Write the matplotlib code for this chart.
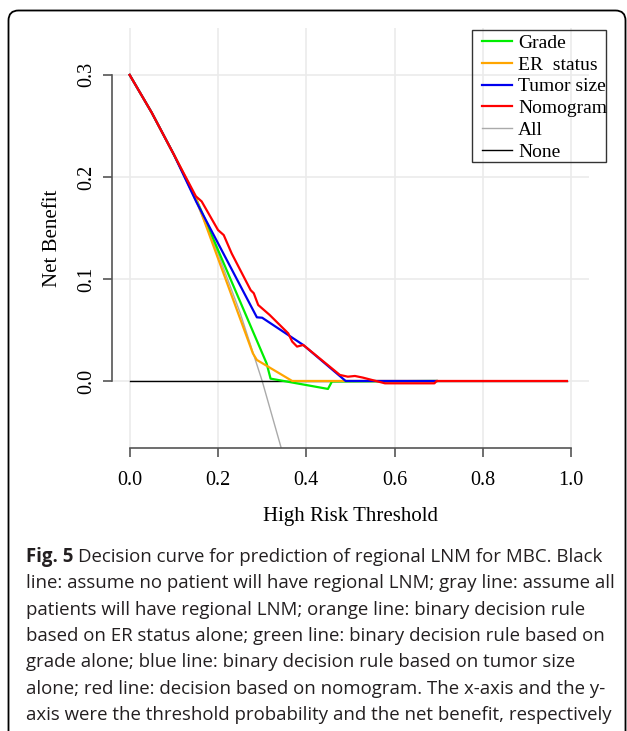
import matplotlib
matplotlib.use("Agg")
import matplotlib.pyplot as plt
import matplotlib.transforms as mtransforms
from matplotlib.patches import FancyBboxPatch, Rectangle

# Decision curve values
all_t = [0.0, 0.05, 0.10, 0.15, 0.20, 0.25, 0.30, 0.342, 0.36]
all_nb = [0.300, 0.263, 0.222, 0.176, 0.125, 0.067, 0.000, -0.064, -0.094]

none_t = [0.0, 0.99]
none_nb = [0.0, 0.0]

grade_t = [0.0, 0.05, 0.10, 0.151, 0.31, 0.319, 0.449, 0.458, 0.695]
grade_nb = [0.300, 0.263, 0.222, 0.178, 0.0173, 0.0023, -0.0078, -0.0005, 0.0]

er_t = [0.0, 0.05, 0.10, 0.151, 0.279, 0.288, 0.368, 0.695]
er_nb = [0.300, 0.263, 0.222, 0.178, 0.027, 0.0206, 0.0, 0.0]

tumor_t = [0.0, 0.05, 0.10, 0.151, 0.288, 0.30, 0.393, 0.489, 0.695]
tumor_nb = [0.300, 0.263, 0.222, 0.1755, 0.0624, 0.062, 0.0353, 0.0, 0.0]

nomo_t = [0.0, 0.05, 0.10, 0.15, 0.163, 0.20, 0.213, 0.231, 0.274, 0.281, 0.291,
          0.317, 0.359, 0.368, 0.379, 0.393, 0.476, 0.494, 0.51, 0.528, 0.578,
          0.69, 0.695, 0.99]
nomo_nb = [0.300, 0.263, 0.222, 0.181, 0.176, 0.148, 0.143, 0.125, 0.089, 0.086,
           0.0745, 0.0647, 0.0467, 0.0386, 0.0337, 0.0353, 0.0059, 0.0042, 0.0049,
           0.0033, -0.0023, -0.0023, 0.0, 0.0]

x_ticks = [0.0, 0.2, 0.4, 0.6, 0.8, 1.0]
y_ticks = [0.0, 0.1, 0.2, 0.3]

caption_lines = [
    "line: assume no patient will have regional LNM; gray line: assume all",
    "patients will have regional LNM; orange line: binary decision rule",
    "based on ER status alone; green line: binary decision rule based on",
    "grade alone; blue line: binary decision rule based on tumor size",
    "alone; red line: decision based on nomogram. The x-axis and the y-",
    "axis were the threshold probability and the net benefit, respectively",
]

W, H = 627, 731
fig = plt.figure(figsize=(W / 100, H / 100), dpi=100)
serif = "Liberation Serif"
sans = "Open Sans"
px = mtransforms.IdentityTransform()

# figure frame with rounded corner
frame = FancyBboxPatch((8.5, -20), 617, H - 10.5 + 20,
                       boxstyle="round,pad=0,rounding_size=10",
                       transform=px, fill=False, edgecolor="black", linewidth=1.3)
fig.add_artist(frame)

ax = fig.add_axes([112 / W, 1 - 448 / H, 477 / W, 420 / H])
ax.set_xlim(-0.04, 1.04)
ax.set_ylim(-0.0657, 0.346)

for t in x_ticks:
    ax.axvline(t, color="#ebebeb", lw=1.2, zorder=0)
for v in y_ticks:
    ax.axhline(v, color="#ebebeb", lw=1.2, zorder=0)

ax.plot(all_t, all_nb, color="#aaaaaa", lw=1.0, label="All", zorder=2)
ax.plot(none_t, none_nb, color="black", lw=1.0, label="None", zorder=2)
ax.plot(grade_t, grade_nb, color="#00ee00", lw=1.6, label="Grade", zorder=3)
ax.plot(er_t, er_nb, color="#ffa500", lw=1.6, label="ER  status", zorder=4)
ax.plot(tumor_t, tumor_nb, color="#0000ee", lw=1.6, label="Tumor size", zorder=5)
ax.plot(nomo_t, nomo_nb, color="#ff0000", lw=1.6, label="Nomogram", zorder=6)

for side in ["top", "right"]:
    ax.spines[side].set_visible(False)
ax.spines["left"].set_bounds(0, 0.3)
ax.spines["bottom"].set_bounds(0, 1.0)
for side in ["left", "bottom"]:
    ax.spines[side].set_color("#555555")
    ax.spines[side].set_linewidth(1.2)

ax.set_xticks(x_ticks)
ax.set_xticklabels([f"{t:.1f}" for t in x_ticks], family=serif, fontsize=14.5)
ax.set_yticks(y_ticks)
ax.set_yticklabels([f"{v:.1f}" for v in y_ticks], family=serif, fontsize=14.5,
                   rotation=90, va="center")
ax.tick_params(direction="out", length=6.8, width=1.2, color="#555555")
ax.tick_params(axis="x", pad=10)
ax.tick_params(axis="y", pad=4.5)

ax.set_xlabel("High Risk Threshold", family=serif, fontsize=15, labelpad=12)
ax.set_ylabel("Net Benefit", family=serif, fontsize=15, labelpad=11)

handles, labels = ax.get_legend_handles_labels()
order = ["Grade", "ER  status", "Tumor size", "Nomogram", "All", "None"]
hmap = dict(zip(labels, handles))
leg = fig.legend([hmap[k] for k in order], order,
                 loc="upper left", bbox_to_anchor=(482 / W, 1 - 34 / H),
                 bbox_transform=fig.transFigure,
                 prop={"family": serif, "size": 14}, frameon=False,
                 handlelength=1.55, handletextpad=0.3, labelspacing=0.22,
                 borderpad=0, borderaxespad=0)
fig.add_artist(Rectangle((472, H - 162), 134, 132, transform=px, fill=False,
                         edgecolor="#333333", linewidth=1.0))

# caption
cap_size = 13.4
cap_color = "#231f20"
y0 = H - 557
fig.canvas.draw()
bold = fig.text(26 / W, y0 / H, "Fig. 5", family=sans, weight="bold",
                fontsize=cap_size, va="center", ha="left", color=cap_color)
fig.canvas.draw()
bb = bold.get_window_extent()
fig.text((bb.x1 + 5) / W, y0 / H,
         "Decision curve for prediction of regional LNM for MBC. Black",
         family=sans, fontsize=cap_size, va="center", ha="left", color=cap_color)
for i, line in enumerate(caption_lines):
    fig.text(26 / W, (y0 - 26.3 * (i + 1)) / H, line, family=sans,
             fontsize=cap_size, va="center", ha="left", color=cap_color)

fig.savefig("out.png", dpi=100)
